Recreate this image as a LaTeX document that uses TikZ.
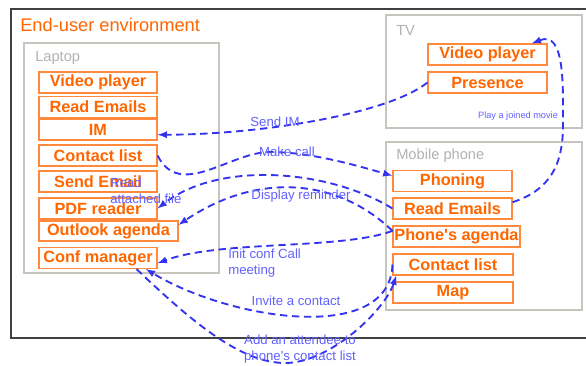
\documentclass[tikz,border=0pt]{standalone}
\usepackage{fontspec}
\setmainfont{Liberation Sans}

\definecolor{apporange}{HTML}{FF6600}
\definecolor{appedge}{HTML}{FF8A3D}
\definecolor{boxgray}{HTML}{C8C5BE}
\definecolor{framegray}{HTML}{404040}
\definecolor{linkblue}{HTML}{3333F0}
\definecolor{labelblue}{HTML}{6262FF}

\begin{document}
\begin{tikzpicture}[x=0.75pt,y=0.75pt,yscale=-1,xscale=1,
  app/.style={draw=appedge, line width=0.8pt, fill=white, text=apporange,
    font=\fontsize{12.2}{14}\selectfont\bfseries, inner sep=0pt,
    minimum width=88.5pt, minimum height=15.75pt},
  device/.style={draw=boxgray, line width=1.1pt},
  devname/.style={text=gray!60, font=\fontsize{11}{13}\selectfont, anchor=west, inner sep=0pt},
  link/.style={draw=linkblue, line width=1.4pt, dash pattern=on 5.5pt off 3.5pt, ->, >=latex},
  linklabel/.style={text=labelblue, font=\fontsize{9.9}{12}\selectfont, inner sep=0pt}]

\path [use as bounding box, fill=white] (0,0) rectangle (586,365);

%%%%%%%%%%%%%%%%%%%%%%%%%%%%%%%%%%%%%%%%%%%%%%%%%%%%%%%%%%%%%%%%%%%%%%%%

\draw [framegray, line width=0.9pt] (590,9) -- (11,9) -- (11,338) -- (590,338);
\node [text=apporange, font=\fontsize{13.7}{16}\selectfont, anchor=west, inner sep=0pt] (title) at (20,25) {End-user environment};

%%%%%%%%%%%%%%%%%%%%%%%%%%%%%%%%%%%%%%%%%%%%%%%%%%%%%%%%%%%%%%%%%%%%%%%%

\draw [device] (24,43) rectangle (219,273);
\node [devname] (laptop) at (35,58) {Laptop};

\node [app] (lvideo) at (98,82.5) {Video player};
\node [app] (lread) at (98,107) {Read Emails};
\node [app] (lim) at (98,129.5) {IM};
\node [app] (lcontact) at (98,155.5) {Contact list};
\node [app] (lsend) at (98,181.5) {Send Email};
\node [app] (lpdf) at (98,208.5) {PDF reader};
\node [app, minimum width=104.25pt, minimum height=15pt] (loutlook) at (108.5,231) {Outlook agenda};
\node [app] (lconf) at (98,258) {Conf manager};

%%%%%%%%%%%%%%%%%%%%%%%%%%%%%%%%%%%%%%%%%%%%%%%%%%%%%%%%%%%%%%%%%%%%%%%%

\draw [device] (386,15) rectangle (582,128);
\node [devname] (tv) at (396,30) {TV};

\node [app, minimum width=89.25pt] (tvvideo) at (487.5,54.5) {Video player};
\node [app, minimum width=89.25pt] (tvpresence) at (487.5,82.5) {Presence};

%%%%%%%%%%%%%%%%%%%%%%%%%%%%%%%%%%%%%%%%%%%%%%%%%%%%%%%%%%%%%%%%%%%%%%%%

\draw [device] (386,142) rectangle (582,310);
\node [devname] (mobile) at (396,156) {Mobile phone};

\node [app, minimum width=89.25pt] (pphoning) at (452.5,181) {Phoning};
\node [app, minimum width=89.25pt] (pread) at (452.5,208.5) {Read Emails};
\node [app, minimum width=95.25pt] (pagenda) at (456.5,236.5) {Phone\textquotesingle s agenda};
\node [app, minimum width=90pt] (pcontact) at (453,264.5) {Contact list};
\node [app, minimum width=90pt] (pmap) at (453,292.5) {Map};

%%%%%%%%%%%%%%%%%%%%%%%%%%%%%%%%%%%%%%%%%%%%%%%%%%%%%%%%%%%%%%%%%%%%%%%%

\draw [link] (tvpresence.west) .. controls +(-40,32) and +(100,0) .. (lim.-5);
\draw [link] (lcontact.east) .. controls (180,200) and (230,152) .. (270,152)
  .. controls (310,152) and (355,165) .. (pphoning.175);
\draw [link] (pread.west) .. controls (330,170) and (220,160) .. (lpdf.east);
\draw [link] (pagenda.175) .. controls (340,180) and (260,170) .. (loutlook.5);
\draw [link] (pagenda.175) .. controls (340,250) and (220,240) .. (lconf.-5);
\draw [link] (pcontact.west) .. controls (390,345) and (230,320) .. (lconf.-13);
\draw [link] (lconf.-16) .. controls (190,320) and (240,363) .. (285,363)
  .. controls (330,363) and (385,310) .. (pcontact.-169);
\draw [link] (pread.6) .. controls (550,190) and (563,165) .. (563,125)
  .. controls (563,85) and (565,30) .. (tvvideo.14);

%%%%%%%%%%%%%%%%%%%%%%%%%%%%%%%%%%%%%%%%%%%%%%%%%%%%%%%%%%%%%%%%%%%%%%%%

\node [linklabel] (lblim) at (275,122) {Send IM};
\node [linklabel] (lblcall) at (287,152) {Make call};
\node [linklabel, anchor=west, align=left] (lblread) at (110,191) {Read\\attached file};
\node [linklabel] (lblreminder) at (301,196) {Display reminder};
\node [linklabel, anchor=west, align=left] (lblinit) at (228,263) {Init conf Call\\meeting};
\node [linklabel] (lblinvite) at (296,301) {Invite a contact};
\node [linklabel, align=center] (lbladd) at (300,349) {Add an attendee to\\phone\textquotesingle s contact list};
\node [linklabel, font=\fontsize{6.9}{8}\selectfont] (lblmovie) at (518,116) {Play a joined movie};

\end{tikzpicture}
\end{document}
